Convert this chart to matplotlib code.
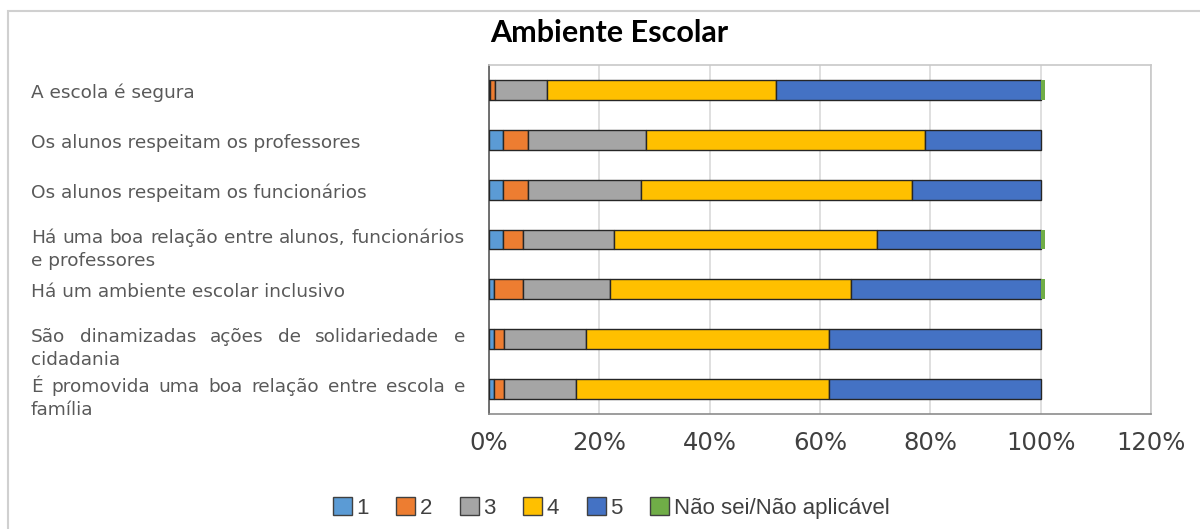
import matplotlib
matplotlib.use("Agg")
import matplotlib.pyplot as plt
from matplotlib.patches import Rectangle, Patch
from matplotlib import transforms
import numpy as np

plt.rcParams["font.family"] = ["DejaVu Sans"]

categories = [
    "A escola é segura",
    "Os alunos respeitam os professores",
    "Os alunos respeitam os funcionários",
    "Há uma boa relação entre alunos, funcionários\ne professores",
    "Há um ambiente escolar inclusivo",
    "São dinamizadas ações de solidariedade e\ncidadania",
    "É promovida uma boa relação entre escola e\nfamília",
]
series_names = ["1", "2", "3", "4", "5", "Não sei/Não aplicável"]
s1 = [0.2, 2.5, 2.5, 2.5, 0.9, 0.9, 0.9]
s2 = [0.8, 4.5, 4.5, 3.7, 5.3, 1.8, 1.8]
s3 = [9.5, 21.5, 20.6, 16.4, 15.7, 14.8, 13.1]
s4 = [41.6, 50.6, 49.0, 47.7, 43.7, 44.1, 45.8]
s5 = [47.9, 20.9, 23.4, 29.7, 34.4, 38.4, 38.4]
s6 = [0.7, 0.0, 0.0, 0.7, 0.7, 0.0, 0.0]
xticks = [0, 20, 40, 60, 80, 100, 120]
xtick_labels = ["0%", "20%", "40%", "60%", "80%", "100%", "120%"]

colors = ["#5B9BD5", "#ED7D31", "#A5A5A5", "#FFC000", "#4472C4", "#70AD47"]

W, H = 1200, 529
fig = plt.figure(figsize=(W / 100, H / 100), dpi=100)
fig.patch.set_facecolor("white")

# outer chart border
fig.patches.append(Rectangle((8 / W, -0.1), 1.2, 1 - 11 / H + 0.1,
                             transform=fig.transFigure, fill=False,
                             edgecolor="#d0d0d0", linewidth=1.5, zorder=0))

ax = fig.add_axes([489 / W, 1 - 414 / H, (1151 - 489) / W, (414 - 65) / H])

y = np.arange(len(categories))
data = [s1, s2, s3, s4, s5, s6]
left = np.zeros(len(categories))
for i, (vals, c) in enumerate(zip(data, colors)):
    vals = np.array(vals)
    if i == 5:
        ax.barh(y, vals, left=left, height=0.4, color=c, edgecolor="none",
                linewidth=0, zorder=3)
    else:
        ax.barh(y, vals, left=left, height=0.4, color=c, edgecolor="#262626",
                linewidth=1.0, zorder=3)
    left += vals

ax.set_xlim(0, 120)
ax.set_ylim(len(categories) - 0.5, -0.5)
ax.set_xticks(xticks)
ax.set_xticklabels(xtick_labels, fontsize=17.5, color="#404040")
ax.tick_params(axis="x", length=0, pad=12)
ax.set_yticks(y)
ax.set_yticklabels([])
ax.tick_params(axis="y", length=0)
ax.grid(axis="x", color="#d9d9d9", linewidth=1.2, zorder=0)
ax.set_axisbelow(True)
for side in ["top", "right"]:
    ax.spines[side].set_color("#c8c8c8")
    ax.spines[side].set_linewidth(1.2)
ax.spines["left"].set_color("#595959")
ax.spines["bottom"].set_color("#8c8c8c")
ax.spines["left"].set_linewidth(1.2)
ax.spines["bottom"].set_linewidth(1.2)

# category labels (left aligned, justified first lines when wrapped)
renderer = fig.canvas.get_renderer()
base = transforms.blended_transform_factory(fig.transFigure, ax.transData)
x0_px, x1_px = 31, 465
lab_kw = dict(fontsize=13.3, color="#595959", va="center", ha="left")


def px_offset(dx, dy):
    return transforms.ScaledTranslation(dx / 100, -dy / 100, fig.dpi_scale_trans)


for yi, lab in zip(y, categories):
    lines = lab.split("\n")
    if len(lines) == 1:
        fig.text(x0_px / W, yi, lines[0], transform=base + px_offset(0, 3),
                 **lab_kw)
        continue
    offsets = [-2, 21]
    for li, (line, dy) in enumerate(zip(lines, offsets)):
        words = line.split(" ")
        if li == 0 and len(words) > 1:
            tws = []
            for wd in words:
                t = fig.text(0, 0, wd, **lab_kw)
                tws.append(t.get_window_extent(renderer).width)
                t.remove()
            gap = (x1_px - x0_px - sum(tws)) / (len(words) - 1)
            xcur = x0_px
            for wd, tw in zip(words, tws):
                fig.text(0, yi, wd, transform=base + px_offset(xcur, dy),
                         **lab_kw)
                xcur += tw + gap
        else:
            fig.text(x0_px / W, yi, line, transform=base + px_offset(0, dy),
                     **lab_kw)

fig.text(609 / W, 1 - 33 / H, "Ambiente Escolar", ha="center", va="center",
         fontsize=22, fontweight="bold", family="Lato", color="black")

handles = [Patch(facecolor=c, edgecolor="#404040", linewidth=1.0)
           for c in colors]
fig.legend(handles, series_names, loc="center",
           bbox_to_anchor=(611 / W, 1 - 508 / H), ncol=6, frameon=False,
           prop={"family": "Liberation Sans", "size": 16},
           handlelength=0.85, handleheight=0.85, handletextpad=0.2,
           columnspacing=1.25, labelcolor="#404040")

fig.savefig("out.png", dpi=100, facecolor="white")
